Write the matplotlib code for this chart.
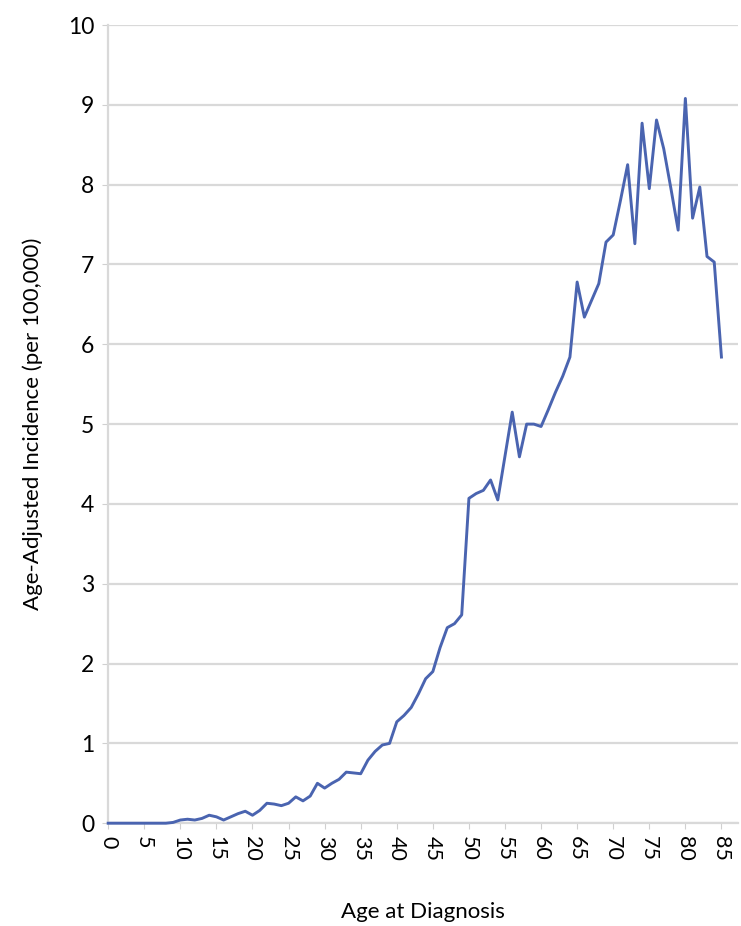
import matplotlib.pyplot as plt
import numpy as np

plt.rcParams['font.family'] = ['Lato', 'DejaVu Sans']

ages = list(range(0, 86))
incidence = [
    0.0, 0.0, 0.0, 0.0, 0.0, 0.0, 0.0, 0.0, 0.0, 0.01,
    0.04, 0.05, 0.04, 0.06, 0.10, 0.08, 0.04, 0.08, 0.12, 0.15,
    0.10, 0.16, 0.25, 0.24, 0.22, 0.25, 0.33, 0.28, 0.34, 0.50,
    0.44, 0.50, 0.55, 0.64, 0.63, 0.62, 0.79, 0.90, 0.98, 1.00,
    1.27, 1.35, 1.45, 1.62, 1.81, 1.90, 2.20, 2.45, 2.50, 2.61,
    4.07, 4.13, 4.17, 4.30, 4.05, 4.60, 5.15, 4.59, 5.00, 5.00,
    4.97, 5.18, 5.40, 5.60, 5.84, 6.78, 6.34, 6.55, 6.76, 7.28,
    7.37, 7.80, 8.25, 7.26, 8.77, 7.95, 8.81, 8.45, 7.95, 7.43,
    9.08, 7.58, 7.97, 7.10, 7.03, 5.84,
]
xticks = list(range(0, 86, 5))
yticks = list(range(0, 11))

fig = plt.figure(figsize=(7.41, 9.26), dpi=100)
ax = fig.add_axes([0.146, 0.111, 0.85, 0.862])

ax.plot(ages, incidence, color='#4a64b0', linewidth=2.1, clip_on=False, zorder=5)

ax.set_xlim(0, 87.3)
ax.set_ylim(0, 10)
ax.set_yticks(yticks)
ax.set_xticks(xticks)
ax.set_xticklabels([str(t) for t in xticks], rotation=-90, fontsize=15.5)
ax.tick_params(axis='y', labelsize=16.5, length=4, color='#d0d0d0', pad=6)
ax.tick_params(axis='x', length=4, color='#d0d0d0', pad=5)

ax.grid(axis='y', color='#d9d9d9', linewidth=1.6)
ax.set_axisbelow(True)
for s in ['top', 'right']:
    ax.spines[s].set_visible(False)
ax.spines['left'].set_color('#d9d9d9')
ax.spines['left'].set_linewidth(1.6)
ax.spines['bottom'].set_color('#d9d9d9')
ax.spines['bottom'].set_linewidth(1.6)

ax.set_xlabel('Age at Diagnosis', fontsize=16, labelpad=30)
ax.set_ylabel('Age-Adjusted Incidence (per 100,000)', fontsize=16, labelpad=18)

fig.savefig('out.png', dpi=100)
